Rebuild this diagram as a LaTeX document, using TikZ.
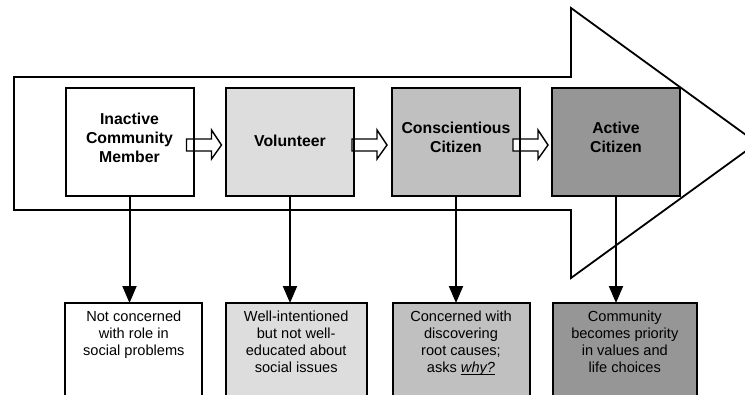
\documentclass[tikz,border=0pt]{standalone}
\usepackage{fontspec}
\setmainfont{Liberation Sans}
\usetikzlibrary{arrows.meta}
\definecolor{gB}{RGB}{221,221,221}
\definecolor{gC}{RGB}{192,192,192}
\definecolor{gD}{RGB}{150,150,150}
\newcommand\thickul[1]{\setbox0\hbox{#1}\rlap{\rule[-2.6pt]{\wd0}{1.5pt}}\box0}
\begin{document}
\begin{tikzpicture}[x=1pt,y=-1pt,
  topbox/.style={draw, line width=2pt, minimum width=128pt, minimum height=108pt, inner sep=0pt, outer sep=0pt},
  lowbox/.style={draw, line width=2pt, minimum height=130pt, inner sep=0pt, outer sep=0pt, anchor=north},
  ttext/.style={font=\bfseries\fontsize{15.8}{19}\selectfont, align=center, inner sep=0pt, anchor=north},
  btext/.style={font=\fontsize{14.6}{17}\selectfont, align=center, inner sep=0pt, anchor=north},
  bigarrow/.style={line width=1.8pt, line join=miter},
  hollow/.style={draw, fill=white, line width=1.4pt, line join=miter},
  conn/.style={line width=2pt, -{Triangle[length=17pt,width=14pt]}},
  boxline/.style={line width=2pt}]
\useasboundingbox (0,0) rectangle (745,394);
\clip (0,0) rectangle (745,394);
% big arrow
\draw[bigarrow] (14,77) -- (571,77) -- (571,8) -- (757,143) -- (571,278) -- (571,210) -- (14,210) -- cycle;
% top boxes
\node[topbox, fill=white] (b1) at (129.5,142) {};
\node[topbox, fill=gB] (b2) at (290,142) {};
\node[topbox, fill=gC] (b3) at (456,142) {};
\node[topbox, fill=gD] (b4) at (616,142) {};
% small hollow arrows
\draw[hollow] ([shift={(-7,-3)}]b1.east) -- ++(25,0) -- ++(0,-9) -- ++(10,15) -- ++(-10,14) -- ++(0,-8) -- ++(-25,0) -- cycle;
\draw[hollow] ([shift={(-2,-3)}]b2.east) -- ++(25,0) -- ++(0,-9) -- ++(10,15) -- ++(-10,14) -- ++(0,-8) -- ++(-25,0) -- cycle;
\draw[hollow] ([shift={(-7,-3)}]b3.east) -- ++(25,0) -- ++(0,-9) -- ++(10,15) -- ++(-10,14) -- ++(0,-8) -- ++(-25,0) -- cycle;
% redraw box borders over arrows
\draw[boxline] (b1.north west) rectangle (b1.south east);
\draw[boxline] (b2.north west) rectangle (b2.south east);
\draw[boxline] (b3.north west) rectangle (b3.south east);
% top labels
\node[ttext] (l1) at (129.5,112.4) {Inactive\\Community\\Member};
\node[ttext] (l2) at (290,135.3) {Volunteer};
\node[ttext] (l3) at (456,121.4) {Conscientious\\Citizen};
\node[ttext] (l4) at (616,121.4) {Active\\Citizen};
% lower boxes
\node[lowbox, fill=white, minimum width=137pt] (d1) at (133.8,303) {};
\node[lowbox, fill=gB, minimum width=141pt] (d2) at (296.2,303) {};
\node[lowbox, fill=gC, minimum width=137pt] (d3) at (461,303) {};
\node[lowbox, fill=gD, minimum width=144pt] (d4) at (624.8,303) {};
% lower texts
\node[btext] (t1) at ([yshift=-7.7pt]d1.north) {Not concerned\\with role in\\social problems};
\node[btext] (t2) at ([yshift=-7.7pt]d2.north) {Well-intentioned\\but not well-\\educated about\\social issues};
\node[btext] (t3) at ([yshift=-7.7pt]d3.north) {Concerned with\\discovering\\root causes;\\asks \thickul{\textit{why?}}};
\node[btext] (t4) at ([yshift=-7.7pt]d4.north) {Community\\becomes priority\\in values and\\life choices};
% connectors
\draw[conn] (b1.south) -- (b1.south |- d1.north);
\draw[conn] (b2.south) -- (b2.south |- d2.north);
\draw[conn] (b3.south) -- (b3.south |- d3.north);
\draw[conn] (b4.south) -- (b4.south |- d4.north);
\end{tikzpicture}
\end{document}
